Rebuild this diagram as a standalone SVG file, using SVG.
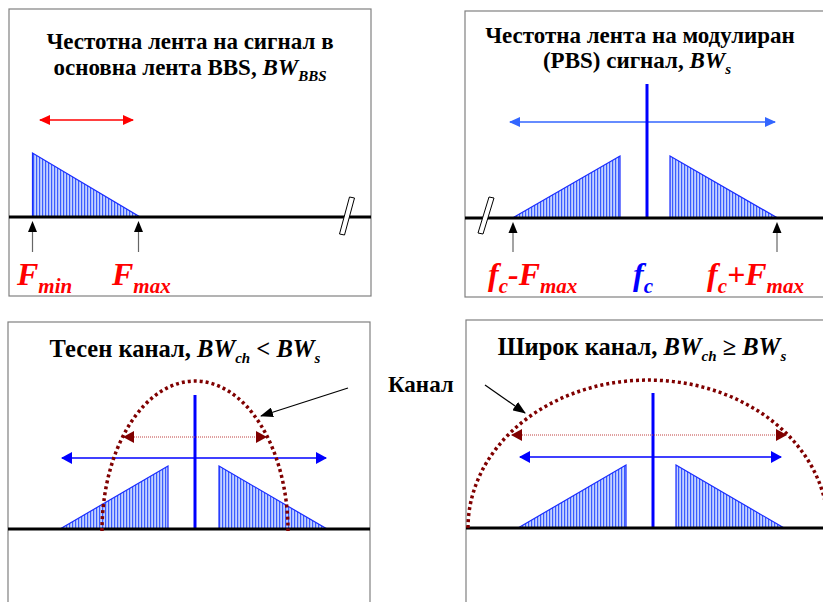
<svg xmlns="http://www.w3.org/2000/svg" width="823" height="602" viewBox="0 0 823 602">
<style>
.frame{fill:#fff;stroke:#808080;stroke-width:1.2}
.axis{stroke:#000;stroke-width:3}
text{font-family:'Liberation Serif','Times New Roman',serif}
.title{font-weight:bold;font-size:23px;fill:#000}
.big{font-size:24.5px}
.it{font-style:italic}
.sub{font-size:15px;font-style:italic}
.lbl{font-weight:bold;font-style:italic;font-size:32px}
.lsub{font-size:21px}
.tri{fill:url(#hatch);stroke:#1a2cff;stroke-width:1.2}
.carrier{stroke:#0000ff;stroke-width:3}
.brk{fill:#fff;stroke:#000;stroke-width:1}
.chan{fill:none;stroke:#800000;stroke-width:3.5;stroke-dasharray:3 3}
.chw{stroke:#c04040;stroke-width:1;stroke-dasharray:1 1;marker-start:url(#mHead);marker-end:url(#mHead)}
</style>
<defs>
<pattern id="hatch" patternUnits="userSpaceOnUse" width="3" height="10">
<rect width="3" height="10" fill="#c4d2ff"/>
<rect x="0" width="1.2" height="10" fill="#3a5cff"/>
</pattern>
<marker id="redHead" markerUnits="userSpaceOnUse" markerWidth="12" markerHeight="10" refX="10" refY="5" orient="auto-start-reverse"><path d="M0,0 L11,5 L0,10 Z" fill="#ff0000"/></marker>
<marker id="lbHead" markerUnits="userSpaceOnUse" markerWidth="12" markerHeight="10" refX="10" refY="5" orient="auto-start-reverse"><path d="M0,0 L11,5 L0,10 Z" fill="#3366ff"/></marker>
<marker id="bHead" markerUnits="userSpaceOnUse" markerWidth="12" markerHeight="12" refX="10" refY="6" orient="auto-start-reverse"><path d="M0,0 L11,6 L0,12 Z" fill="#0000ff"/></marker>
<marker id="mHead" markerUnits="userSpaceOnUse" markerWidth="12" markerHeight="12" refX="10" refY="6" orient="auto-start-reverse"><path d="M0,0 L11,6 L0,12 Z" fill="#800000"/></marker>
<marker id="kHead" markerUnits="userSpaceOnUse" markerWidth="14" markerHeight="10" refX="12" refY="5" orient="auto"><path d="M0,0 L13,5 L0,10 Z" fill="#000"/></marker>
</defs>

<g id="panel-bbs">
<rect class="frame" x="9" y="9" width="362" height="287"/>
<text class="title" x="190" y="49" text-anchor="middle">Честотна лента на сигнал в</text>
<text class="title" x="190" y="75" text-anchor="middle">основна лента BBS, <tspan class="it">BW</tspan><tspan class="sub" dy="6">BBS</tspan></text>
<line x1="40" y1="120" x2="133" y2="120" stroke="#ff0000" stroke-width="1.5" marker-start="url(#redHead)" marker-end="url(#redHead)"/>
<polygon class="tri" points="32.5,153 32.5,217 140,217"/>
<line class="axis" x1="9" y1="217" x2="371" y2="217"/>
<polygon class="brk" points="349.5,197 354.5,198 344.5,235 339.5,234"/>
<line x1="32.5" y1="252" x2="32.5" y2="231" stroke="#666" stroke-width="1.2"/>
<path d="M28,232 L32.5,221 L37,232 Z" fill="#000"/>
<line x1="138.5" y1="252" x2="138.5" y2="231" stroke="#666" stroke-width="1.2"/>
<path d="M134,232 L138.5,221 L143,232 Z" fill="#000"/>
<text class="lbl" x="17" y="285" fill="#ff0000">F<tspan class="lsub" dy="8">min</tspan></text>
<text class="lbl" x="112" y="285" fill="#ff0000">F<tspan class="lsub" dy="8">max</tspan></text>
</g>

<g id="panel-pbs">
<rect class="frame" x="465" y="11" width="400" height="286"/>
<text class="title" x="640" y="43" text-anchor="middle">Честотна лента на модулиран</text>
<text class="title" x="637" y="68" text-anchor="middle">(PBS) сигнал, <tspan class="it">BW</tspan><tspan class="sub" dy="6">s</tspan></text>
<line x1="510" y1="122" x2="775" y2="122" stroke="#3366ff" stroke-width="1.5" marker-start="url(#lbHead)" marker-end="url(#lbHead)"/>
<polygon class="tri" points="512.5,218 620,156 620,218"/>
<polygon class="tri" points="670,156 777.5,218 670,218"/>
<line class="carrier" x1="647" y1="84" x2="647" y2="218"/>
<line class="axis" x1="465" y1="218" x2="823" y2="218"/>
<polygon class="brk" points="489,197 494,198 483,234 478,233"/>
<line x1="513" y1="252" x2="513" y2="232" stroke="#666" stroke-width="1.2"/>
<path d="M508.5,233 L513,222 L517.5,233 Z" fill="#000"/>
<line x1="777" y1="252" x2="777" y2="232" stroke="#666" stroke-width="1.2"/>
<path d="M772.5,233 L777,222 L781.5,233 Z" fill="#000"/>
<text class="lbl" x="488" y="285" fill="#ff0000">f<tspan class="lsub" dy="8">c</tspan><tspan dy="-8">-F</tspan><tspan class="lsub" dy="8">max</tspan></text>
<text class="lbl" x="633" y="285" fill="#0000ff">f<tspan class="lsub" dy="8">c</tspan></text>
<text class="lbl" x="707" y="285" fill="#ff0000">f<tspan class="lsub" dy="8">c</tspan><tspan dy="-8">+F</tspan><tspan class="lsub" dy="8">max</tspan></text>
</g>

<g id="panel-narrow">
<rect class="frame" x="8" y="322" width="362" height="300"/>
<text class="title big" x="185" y="357" text-anchor="middle">Тесен канал, <tspan class="it">BW</tspan><tspan class="sub" dy="6">ch</tspan><tspan dy="-6"> &lt; </tspan><tspan class="it">BW</tspan><tspan class="sub" dy="6">s</tspan></text>
<polygon class="tri" points="60,529 168,466 168,529"/>
<polygon class="tri" points="219,466 327,529 219,529"/>
<line class="carrier" x1="195" y1="395" x2="195" y2="529"/>
<line x1="62" y1="458" x2="326" y2="458" stroke="#0000ff" stroke-width="1.5" marker-start="url(#bHead)" marker-end="url(#bHead)"/>
<line class="chw" x1="124" y1="437" x2="266" y2="437"/>
<line class="axis" x1="8" y1="529" x2="370" y2="529"/>
<path class="chan" d="M102,531 A93,150 0 0 1 288,531"/>
</g>

<g id="panel-wide">
<rect class="frame" x="466" y="320" width="400" height="300"/>
<text class="title big" x="642" y="355" text-anchor="middle">Широк канал, <tspan class="it">BW</tspan><tspan class="sub" dy="6">ch</tspan><tspan dy="-6"> ≥ </tspan><tspan class="it">BW</tspan><tspan class="sub" dy="6">s</tspan></text>
<polygon class="tri" points="518,528 626,465 626,528"/>
<polygon class="tri" points="676,465 784,528 676,528"/>
<line class="carrier" x1="653" y1="393" x2="653" y2="528"/>
<line x1="520" y1="457" x2="781" y2="457" stroke="#0000ff" stroke-width="1.5" marker-start="url(#bHead)" marker-end="url(#bHead)"/>
<line class="chw" x1="512" y1="435" x2="786" y2="435"/>
<line class="axis" x1="466" y1="528" x2="823" y2="528"/>
<path class="chan" d="M468,528 A180,148 0 0 1 828,528"/>
</g>

<g id="label-kanal">
<text class="title" x="388" y="392">Канал</text>
</g>

<g id="connectors">
<line x1="348" y1="388" x2="261" y2="416" stroke="#000" stroke-width="1.2" marker-end="url(#kHead)"/>
<line x1="485" y1="385" x2="525" y2="413" stroke="#000" stroke-width="1.2" marker-end="url(#kHead)"/>
</g>
</svg>
